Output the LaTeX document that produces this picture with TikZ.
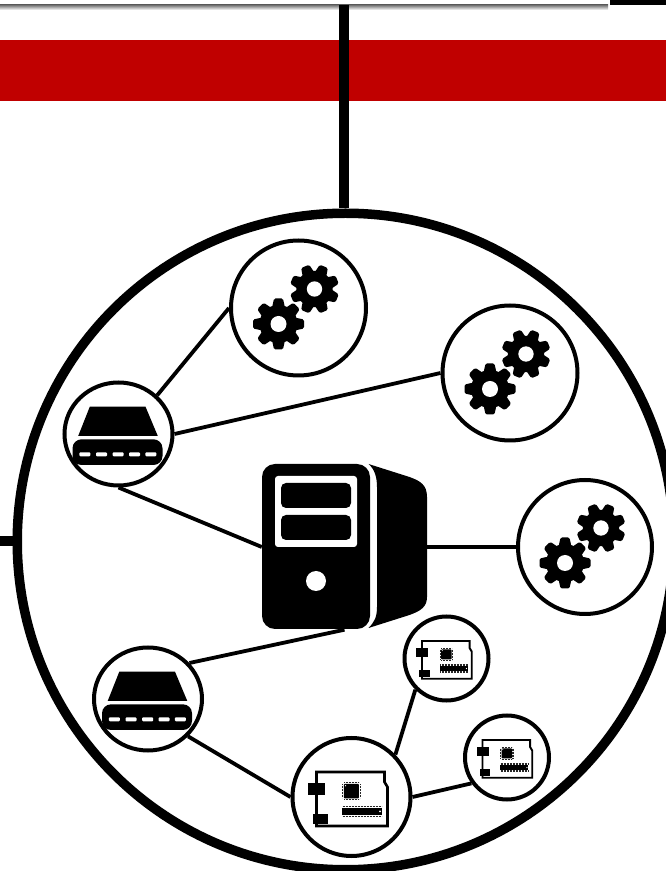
\documentclass[tikz,border=0pt]{standalone}
\usepackage{xcolor}
\usetikzlibrary{positioning,shapes.geometric}
\definecolor{bandred}{HTML}{C00000}

\tikzset{
	hub/.style={circle, draw=black, fill=white, line width=4pt, inner sep=0pt},
	diskhub/.style={ellipse, draw=black, fill=white, line width=4pt, inner sep=0pt, minimum width=108pt, minimum height=103pt},
	wire/.style={line width=3.8pt},
	pinrow/.style={line width=1.2pt, black!85, dash pattern=on .8pt off .7pt},
	gearpair/.pic={
		\foreach \gx/\gy/\grot/\gsize in {-20/-16/0/1, 16/19/22.5/.96} {
			\begin{scope}[shift={(\gx,\gy)}, rotate=\grot, scale=\gsize]
				\fill (0,0) circle (19);
				\foreach \ang in {0,45,...,315}
					\fill[rotate=\ang, rounded corners=1.5pt] (-6.5,16) -- (-4.5,25.5) -- (4.5,25.5) -- (6.5,16) -- cycle;
				\fill[white] (0,0) circle (8);
			\end{scope}
		}
	},
	diskicon/.pic={
		\fill (-28.7,27.3) -- (27,27.3) -- (39.3,-2) -- (-40.3,-2) -- cycle;
		\fill[rounded corners=9pt] (-46,-5.3) rectangle (44,-31);
		\foreach \sx in {-33.7,-17,-0.3,16,32.3}
			\fill[white, rounded corners=1pt] (\sx-5.5,-18.3) rectangle (\sx+5.5,-22.3);
	},
	servericon/.pic={
		\fill[rounded corners=13pt] (-82.5,83) rectangle (25.5,-82);
		\fill[white, rounded corners=3pt] (-69.5,71) rectangle (12.5,0);
		\fill[rounded corners=5pt] (-63.5,64) rectangle (6.5,39);
		\fill[rounded corners=5pt] (-63.5,32) rectangle (6.5,7);
		\fill[white] (-28.5,-34) circle (10);
		\fill (24,83) -- (65,70) .. controls (76,66) and (82.5,62) .. (82.5,50) -- (82.5,-50)
			.. controls (82.5,-60) and (76,-64) .. (65,-68) -- (24,-81)
			.. controls (30,-75) and (32.5,-70) .. (32.5,-60) -- (32.5,60)
			.. controls (32.5,70) and (30,78) .. (24,83) -- cycle;
	},
	boardicon/.pic={
		\draw (-35,25) -- (33,25) -- (33,15) -- (36,10) -- (36,-29) -- (-35,-29) -- cycle;
		\fill (-43.3,14.3) rectangle (-26.3,2);
		\fill (-38.7,-17) rectangle (-23.7,-26.7);
		\fill[rounded corners=.8pt] (-7.7,13) rectangle (7.3,-1.3);
		\fill[white] (-6,11.3) circle (.7);
		\draw[pinrow] (-7.5,14.4) -- (7.5,14.4);
		\draw[pinrow] (-7.5,-2.7) -- (7.5,-2.7);
		\draw[pinrow] (-9,12.5) -- (-9,-1);
		\draw[pinrow] (8.7,12.5) -- (8.7,-1);
		\fill (-10,-10.7) rectangle (30.7,-18);
		\fill[white] (28.5,-14.3) circle (1);
		\draw[pinrow] (-9,-9.3) -- (30,-9.3);
		\draw[pinrow] (-9,-19.4) -- (30,-19.4);
	}
}

\begin{document}
\begin{tikzpicture}[x=1pt, y=1pt, on grid]
	\clip (0,0) rectangle (666,871);

	% top of the page
	\shade[top color=black!55, bottom color=white] (0,866) rectangle (608,861);
	\fill (610,871) rectangle (666,866);
	\coordinate (topend) at (344.2,866);
	\coordinate (leftend) at (0,330);

	\node[fill=bandred, minimum width=670pt, minimum height=61pt, inner sep=0pt] (band) at (333,800.5) {};

	\node[circle, draw=black, fill=white, line width=9.5pt, inner sep=0pt, minimum size=656.5pt] (rim) at (345.5,329.5) {};

	\path[draw, line width=9.5pt] (topend) -- (topend |- rim.north);
	\path[draw, line width=9.5pt] (leftend) -- (leftend -| rim.west);

	% nodes
	\node[minimum width=165pt, minimum height=165pt, inner sep=0pt] (server) at (344.5,324) {};

	\node[hub, minimum size=135pt] (gearA)[above left=239pt and 46pt of server] {};
	\node[hub, minimum size=135pt] (gearB)[above right=174pt and 165.5pt of server] {};
	\node[hub, minimum size=134pt] (gearC)[right=240.5pt of server] {};

	\node[diskhub] (diskA)[above left=113pt and 226pt of server] {};
	\node[diskhub] (diskB)[below left=152pt and 196.5pt of server] {};

	\node[hub, minimum size=118pt] (boardA)[below right=250pt and 7pt of server] {};
	\node[hub, minimum size=84pt] (boardB)[above right=138.5pt and 95pt of boardA] {};
	\node[hub, minimum size=84pt] (boardC)[above right=39.5pt and 155.5pt of boardA] {};

	% icons
	\path (server) pic {servericon};
	\path (gearA) pic {gearpair};
	\path (gearB) pic {gearpair};
	\path (gearC) pic {gearpair};
	\path (diskA) pic {diskicon};
	\path (diskB) pic {diskicon};
	\path (boardA) pic[line width=2.6pt] {boardicon};
	\path (boardB) pic[scale=.7, line width=1.9pt] {boardicon};
	\path (boardC) pic[scale=.7, line width=1.9pt] {boardicon};

	% connectors
	\path[draw, wire] (diskA.45) -- (gearA.180);
	\path[draw, wire] (diskA.0) -- (gearB.180);
	\path[draw, wire] (diskA.270) -- (server.west);
	\path[draw, wire] (server.east) -- (gearC.west);
	\path[draw, wire] (server.south) -- (diskB.41);
	\path[draw, wire] (diskB.-43) -- (boardA.180);
	\path[draw, wire] (boardA.44) -- (boardB.225);
	\path[draw, wire] (boardA.0) -- (boardC.216);

\end{tikzpicture}
\end{document}
